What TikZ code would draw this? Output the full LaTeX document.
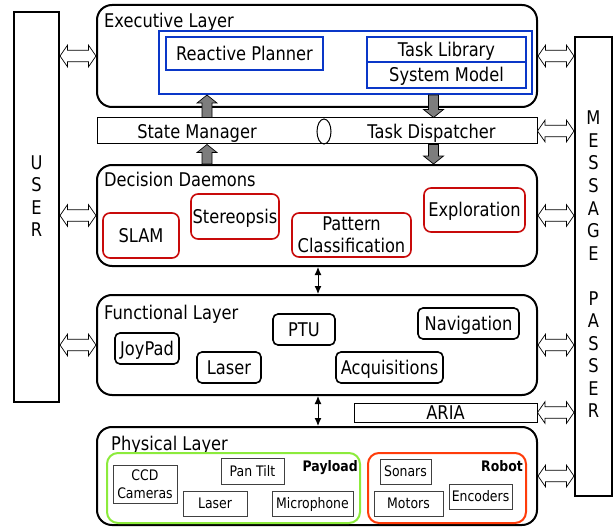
\documentclass[tikz,border=0pt]{standalone}
\usepackage{fontspec}
\setmainfont{DejaVu Sans}[FakeStretch=0.86]
\usetikzlibrary{calc,arrows.meta,shapes.geometric}

\definecolor{planblue}{RGB}{10,55,200}
\definecolor{daemonred}{RGB}{200,10,10}
\definecolor{payloadgreen}{RGB}{140,235,60}
\definecolor{robotred}{RGB}{255,60,10}
\definecolor{fatgray}{RGB}{125,125,125}

% two-headed hollow arrow between two points at the same height
\newcommand\hollowlink[2]{%
  \path[hollow] let \p1=#1, \p2=#2 in
    (\x1,\y1) -- (\x1+7.5pt,\y1+10.8pt) -- (\x1+7.5pt,\y1+5.8pt)
    -- (\x2-7.5pt,\y1+5.8pt) -- (\x2-7.5pt,\y1+10.8pt) -- (\x2,\y1)
    -- (\x2-7.5pt,\y1-10.8pt) -- (\x2-7.5pt,\y1-5.8pt)
    -- (\x1+7.5pt,\y1-5.8pt) -- (\x1+7.5pt,\y1-10.8pt) -- cycle;}

% thick grey vertical block arrow from #1 (tail) to #2 (tip)
\newcommand\fatlink[2]{%
  \path[fat] let \p1=#1, \p2=#2, \p3=($#2!8pt!#1$) in
    (\x1-5pt,\y1) -- (\x1-5pt,\y3) -- (\x1-10pt,\y3) -- (\x2,\y2)
    -- (\x1+10pt,\y3) -- (\x1+5pt,\y3) -- (\x1+5pt,\y1) -- cycle;}

\begin{document}
\begin{tikzpicture}[x=1pt,y=-1pt,
  every node/.style={inner sep=0pt},
  mainfont/.style={font=\fontsize{18.9}{22}\selectfont},
  smallfont/.style={font=\fontsize{14.5}{18}\selectfont},
  capsline/.style={text height=13.8pt,text depth=0pt},
  smallcaps/.style={text height=10.6pt,text depth=0pt},
  column/.style={draw,line width=2pt},
  colletters/.style={mainfont,align=center,font=\fontsize{18.9}{22.55}\selectfont},
  layerbox/.style={draw,line width=2pt,rounded corners=15pt,minimum width=440},
  layertitle/.style={mainfont,anchor=base west},
  barbox/.style={draw,line width=1pt},
  plannerframe/.style={draw=planblue,line width=2pt},
  planbox/.style={draw=planblue,line width=1.6pt,mainfont,capsline},
  daemon/.style={draw=daemonred,line width=1.6pt,rounded corners=7pt,mainfont,capsline},
  module/.style={draw,line width=1.6pt,rounded corners=5pt,mainfont,capsline},
  groupbox/.style={line width=2pt,rounded corners=11pt},
  device/.style={draw=black!75,line width=1pt,smallfont,smallcaps},
  grouplabel/.style={font=\fontsize{14.5}{18}\selectfont\bfseries,smallcaps,anchor=east},
  hollow/.style={draw,fill=white,line width=0.7pt},
  fat/.style={draw,fill=fatgray,line width=0.7pt},
  thinlink/.style={line width=1pt,{Latex[length=8pt,width=7pt]}-{Latex[length=8pt,width=7pt]}}]
\useasboundingbox (0,0) rectangle (614,527);

% side columns
\node[column,minimum width=45,minimum height=390] (user) at (36.5,207) {};
\node[colletters] (usertext) at (36.5,196) {U\\S\\E\\R};
\node[column,minimum width=37,minimum height=459] (passer) at (593.5,266.5) {};
\node[colletters] (passertext) at (593.5,264.5)
  {M\\E\\S\\S\\A\\G\\E\\\mbox{}\\P\\A\\S\\S\\E\\R};

% executive layer
\node[layerbox,minimum height=102] (exec) at (317,56) {};
\node[layertitle] (exectitle) at (104,28) {Executive Layer};
\node[plannerframe,minimum width=373,minimum height=63] (planner) at (345.5,62.5) {};
\node[planbox,minimum width=157,minimum height=33] (reactive) at (244.5,53.5) {Reactive Planner};
\node[planbox,minimum width=159,minimum height=25] (tasklib) at (446.5,49.5) {Task Library};
\node[planbox,minimum width=159,minimum height=26] (sysmodel) at (446.5,75) {System Model};

% state manager / task dispatcher bar
\node[barbox,minimum width=440,minimum height=26] (bar) at (317,131) {};
\node[mainfont,anchor=base] (statemgr) at (197,139) {State Manager};
\node[mainfont,anchor=base] (taskdisp) at (431.5,139) {Task Dispatcher};
\node[draw,ellipse,line width=1pt,minimum width=14,minimum height=25] (split) at (324,131.5) {};

% decision daemons
\node[layerbox,minimum height=101] (daemons) at (317,215.5) {};
\node[layertitle] (daemonstitle) at (104,186) {Decision Daemons};
\node[daemon,minimum width=76,minimum height=45] (slam) at (141,235.5) {SLAM};
\node[daemon,minimum width=88,minimum height=45] (stereo) at (235,216.5) {Stereopsis};
\node[daemon,minimum width=119,minimum height=44,text height=,text depth=,align=center]
  (pattern) at (351.5,235) {Pattern\\Classification};
\node[daemon,minimum width=101,minimum height=44] (explore) at (474.5,210) {Exploration};

% functional layer
\node[layerbox,minimum height=100] (functional) at (317,345) {};
\node[layertitle] (functitle) at (104,319) {Functional Layer};
\node[module,minimum width=62,minimum height=31] (ptu) at (304,329.5) {PTU};
\node[module,minimum width=101,minimum height=31] (nav) at (468.5,323.5) {Navigation};
\node[module,minimum width=64,minimum height=31] (joypad) at (147,348.5) {JoyPad};
\node[module,minimum width=64,minimum height=31] (laser) at (229,367.5) {Laser};
\node[module,minimum width=107,minimum height=31] (acq) at (389.5,367.5) {Acquisitions};

% ARIA bar
\node[barbox,mainfont,capsline,minimum width=183,minimum height=19] (aria) at (445.5,412.5) {ARIA};

% physical layer
\node[layerbox,minimum height=98] (physical) at (317,476) {};
\node[layertitle] (phystitle) at (111,450) {Physical Layer};
\node[groupbox,draw=payloadgreen,minimum width=253,minimum height=70] (payload) at (233.5,488) {};
\node[grouplabel] (payloadlbl) at (358,466) {Payload};
\node[device,minimum width=64,minimum height=38,text height=,text depth=,align=center]
  (ccd) at (145,484.5) {CCD\\Cameras};
\node[device,minimum width=63,minimum height=26] (pantilt) at (252.5,471) {Pan Tilt};
\node[device,minimum width=64,minimum height=25] (plaser) at (215,503.5) {Laser};
\node[device,minimum width=81,minimum height=25] (mic) at (312.5,503.5) {Microphone};
\node[groupbox,draw=robotred,minimum width=158,minimum height=70] (robot) at (447,488) {};
\node[grouplabel] (robotlbl) at (523,466) {Robot};
\node[device,minimum width=51,minimum height=25] (sonars) at (405.5,471.5) {Sonars};
\node[device,minimum width=69,minimum height=25] (motors) at (408.5,503.5) {Motors};
\node[device,minimum width=63,minimum height=25] (encoders) at (480.5,496.5) {Encoders};

% connections to the user
\hollowlink{(user.east |- exec.center)}{(exec.west)}
\hollowlink{(user.east |- daemons.center)}{(daemons.west)}
\hollowlink{(user.east |- functional.center)}{(functional.west)}

% connections to the message passer
\hollowlink{(exec.east)}{(passer.west |- exec.center)}
\hollowlink{(bar.east)}{(passer.west |- bar.center)}
\hollowlink{(daemons.east)}{(passer.west |- daemons.center)}
\hollowlink{(functional.east)}{(passer.west |- functional.center)}
\hollowlink{(aria.east)}{(passer.west |- aria.center)}
\hollowlink{(physical.east)}{(passer.west |- physical.center)}

% state and task flow
\coordinate (upx) at (207,0);
\coordinate (downx) at (433.5,0);
\fatlink{(bar.north -| upx)}{(planner.south -| upx)}
\fatlink{(daemons.north -| upx)}{(bar.south -| upx)}
\fatlink{(planner.south -| downx)}{(bar.north -| downx)}
\fatlink{(bar.south -| downx)}{(daemons.north -| downx)}

% links between layers
\coordinate (linkx) at (318,0);
\draw[thinlink] (daemons.south -| linkx) -- (functional.north -| linkx);
\draw[thinlink] (functional.south -| linkx) -- (physical.north -| linkx);
\end{tikzpicture}
\end{document}
